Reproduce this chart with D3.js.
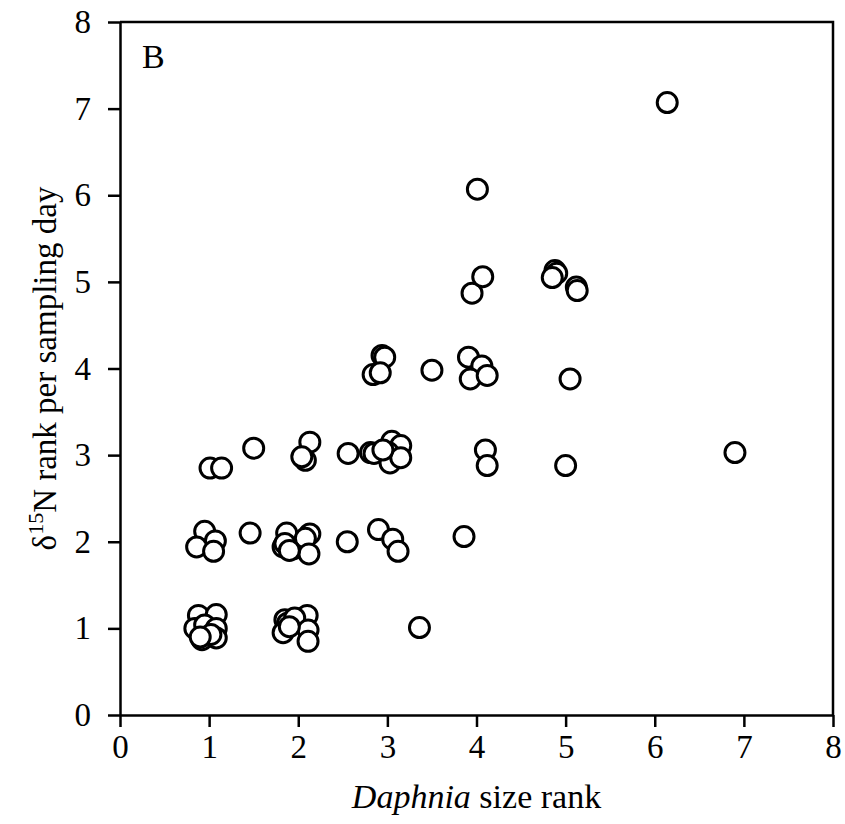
<!DOCTYPE html>
<html>
<head>
<meta charset="utf-8">
<script src="https://cdn.jsdelivr.net/npm/d3@7"></script>
<style>
    html, body { margin: 0; padding: 0; background: #fff; overflow: hidden; }
    svg { display: block; }
    text { font-family: 'Liberation Serif', 'Times New Roman', serif; fill: #000; }
</style>
</head>
<body>
<div id="chart"></div>
<script>
// Daphnia size rank (x) and d15N rank per sampling day (y)
var sizeRank = [
    0.88, 1.08, 0.84, 0.95, 1.08, 0.92, 1.08, 1.02, 0.90,
    1.85, 1.88, 2.10, 1.83, 1.96, 2.11, 2.11, 1.90,
    3.36,
    0.95, 1.07, 0.86, 1.05, 1.46,
    1.87, 2.13, 1.83, 1.95, 2.08, 2.12, 1.85, 1.90,
    2.55, 2.90, 3.06, 3.12, 3.86,
    1.01, 1.14, 1.50, 2.13, 2.08, 2.04, 2.56, 2.81, 2.85, 3.05, 3.15, 3.01, 3.03, 3.15, 2.95,
    4.10, 4.12, 5.00, 6.90,
    2.94, 2.97, 2.84, 2.92, 3.50, 3.91, 4.06, 3.93, 4.12, 5.05,
    3.95, 4.07, 4.88, 4.90, 4.85, 5.12, 5.13,
    4.01, 6.14
];
var n15Rank = [
    1.15, 1.16, 1.00, 1.04, 1.00, 0.87, 0.89, 0.93, 0.90,
    1.10, 1.06, 1.15, 0.95, 1.12, 0.98, 0.85, 1.02,
    1.01,
    2.12, 2.01, 1.94, 1.89, 2.10,
    2.10, 2.09, 1.94, 1.92, 2.04, 1.86, 1.98, 1.90,
    2.00, 2.14, 2.03, 1.89, 2.06,
    2.85, 2.85, 3.08, 3.15, 2.94, 2.98, 3.02, 3.03, 3.02, 3.16, 3.11, 3.03, 2.91, 2.97, 3.06,
    3.06, 2.88, 2.88, 3.03,
    4.15, 4.13, 3.93, 3.95, 3.98, 4.13, 4.03, 3.88, 3.92, 3.88,
    4.87, 5.06, 5.13, 5.10, 5.05, 4.94, 4.90,
    6.07, 7.07
];
var xTicks = [0, 1, 2, 3, 4, 5, 6, 7, 8];
var yTicks = [0, 1, 2, 3, 4, 5, 6, 7, 8];
var panelLabel = 'B';

// svg size and plot box
var width = 845;
var height = 824;
var margins = { top: 22, right: 12, bottom: 109, left: 120 };
var innerWidth = width - margins.left - margins.right;
var innerHeight = height - margins.top - margins.bottom;

var points = sizeRank.map(function(d, i) {
    return { x: d, y: n15Rank[i] };
});

var svg = d3.select('#chart')
    .append('svg')
    .attr('width', width)
    .attr('height', height);

var g = svg.append('g')
    .attr('transform', 'translate(' + margins.left + ',' + margins.top + ')');

var x = d3.scaleLinear().domain([0, 8]).range([0, innerWidth]);
var y = d3.scaleLinear().domain([0, 8]).range([innerHeight, 0]);

// frame (top and right sides)
g.append('path')
    .attr('d', 'M0,0H' + innerWidth + 'V' + innerHeight)
    .attr('fill', 'none')
    .attr('stroke', '#000')
    .attr('stroke-width', 2.5);

// axes
var xAxis = g.append('g')
    .attr('transform', 'translate(0,' + innerHeight + ')')
    .call(d3.axisBottom(x).tickValues(xTicks).tickSize(12).tickPadding(8).tickSizeOuter(0));

var yAxis = g.append('g')
    .call(d3.axisLeft(y).tickValues(yTicks).tickSize(12).tickPadding(17).tickSizeOuter(0));

[xAxis, yAxis].forEach(function(a) {
    a.select('.domain').attr('stroke-width', 2.5);
    a.selectAll('.tick line').attr('stroke-width', 2.5);
    a.selectAll('.tick text')
        .style('font-family', "'Liberation Serif', serif")
        .style('font-size', '33px');
});

// points
g.append('g')
    .selectAll('circle')
    .data(points)
    .enter()
    .append('circle')
    .attr('cx', function(d) { return x(d.x); })
    .attr('cy', function(d) { return y(d.y); })
    .attr('r', 10)
    .attr('fill', '#fff')
    .attr('stroke', '#000')
    .attr('stroke-width', 3);

// panel label
g.append('text')
    .attr('x', 22)
    .attr('y', 46)
    .style('font-size', '34px')
    .text(panelLabel);

// x title
var xTitle = svg.append('text')
    .attr('x', margins.left + innerWidth / 2)
    .attr('y', 808)
    .attr('text-anchor', 'middle')
    .style('font-size', '34px');
xTitle.append('tspan').style('font-style', 'italic').text('Daphnia');
xTitle.append('tspan').text(' size rank');

// y title
var yTitle = svg.append('text')
    .attr('transform', 'translate(56,' + (margins.top + innerHeight / 2) + ') rotate(-90)')
    .attr('text-anchor', 'middle')
    .style('font-size', '33px');
yTitle.append('tspan').text('\u03b4');
yTitle.append('tspan').attr('dy', -13).style('font-size', '22px').text('15');
yTitle.append('tspan').attr('dy', 13).text('N rank per sampling day');
</script>
</body>
</html>
